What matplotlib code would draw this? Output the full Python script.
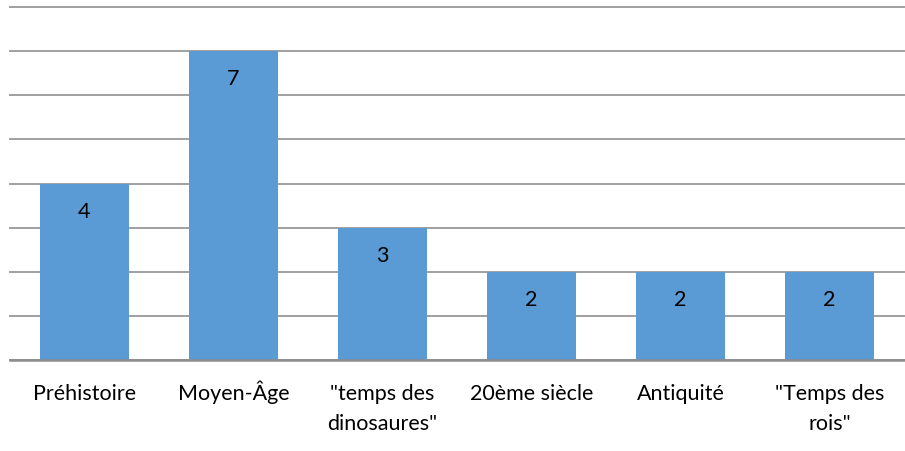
import matplotlib.pyplot as plt
import matplotlib.transforms as mtransforms
import numpy as np

plt.rcParams['font.family'] = ['Lato', 'DejaVu Sans']

categories = ['Préhistoire', 'Moyen-Âge', '"temps des\ndinosaures"', '20ème siècle',
              'Antiquité', '"Temps des\nrois"']
values = [4, 7, 3, 2, 2, 2]

fig = plt.figure(figsize=(9.05, 4.51), dpi=100)
ax = fig.add_axes([10 / 905, (451 - 360) / 451, 894 / 905, 353 / 451])

x = np.arange(len(categories))
ax.bar(x, values, width=0.6, color='#5B9BD5', zorder=2)

# valeurs dans les barres
for xi, v in zip(x, values):
    ax.annotate(str(v), (xi, v), xytext=(0, -28), textcoords='offset pixels',
                ha='center', va='center', fontsize=15.5, color='black', zorder=3)

ax.set_xlim(-0.5, len(categories) - 0.5)
ax.set_ylim(0, 8)
ax.set_yticks(range(0, 9))
ax.yaxis.grid(True, color='#A0A0A0', linewidth=1.4, zorder=0)
ax.set_axisbelow(True)
for gl in ax.get_ygridlines():
    gl.set_clip_on(False)
ax.tick_params(axis='y', left=False, labelleft=False)
ax.tick_params(axis='x', bottom=False, labelbottom=False)
ax.set_xticks(x)

# étiquettes de catégories, une ligne à la fois (lignes de base à 40 et 70 px sous l'axe)
trans = mtransforms.blended_transform_factory(ax.transData, ax.transAxes)
for xi, lab in zip(x, categories):
    for i, line in enumerate(lab.split('\n')):
        off = mtransforms.ScaledTranslation(0, -(40 + 30 * i) / 100, fig.dpi_scale_trans)
        ax.text(xi, 0, line, transform=trans + off, ha='center', va='baseline',
                fontsize=15.5)

for s in ['left', 'right', 'top']:
    ax.spines[s].set_visible(False)
ax.spines['bottom'].set_color('#8C8C8C')
ax.spines['bottom'].set_linewidth(1.8)
ax.spines['bottom'].set_zorder(3)

fig.savefig('out.png', dpi=100)
